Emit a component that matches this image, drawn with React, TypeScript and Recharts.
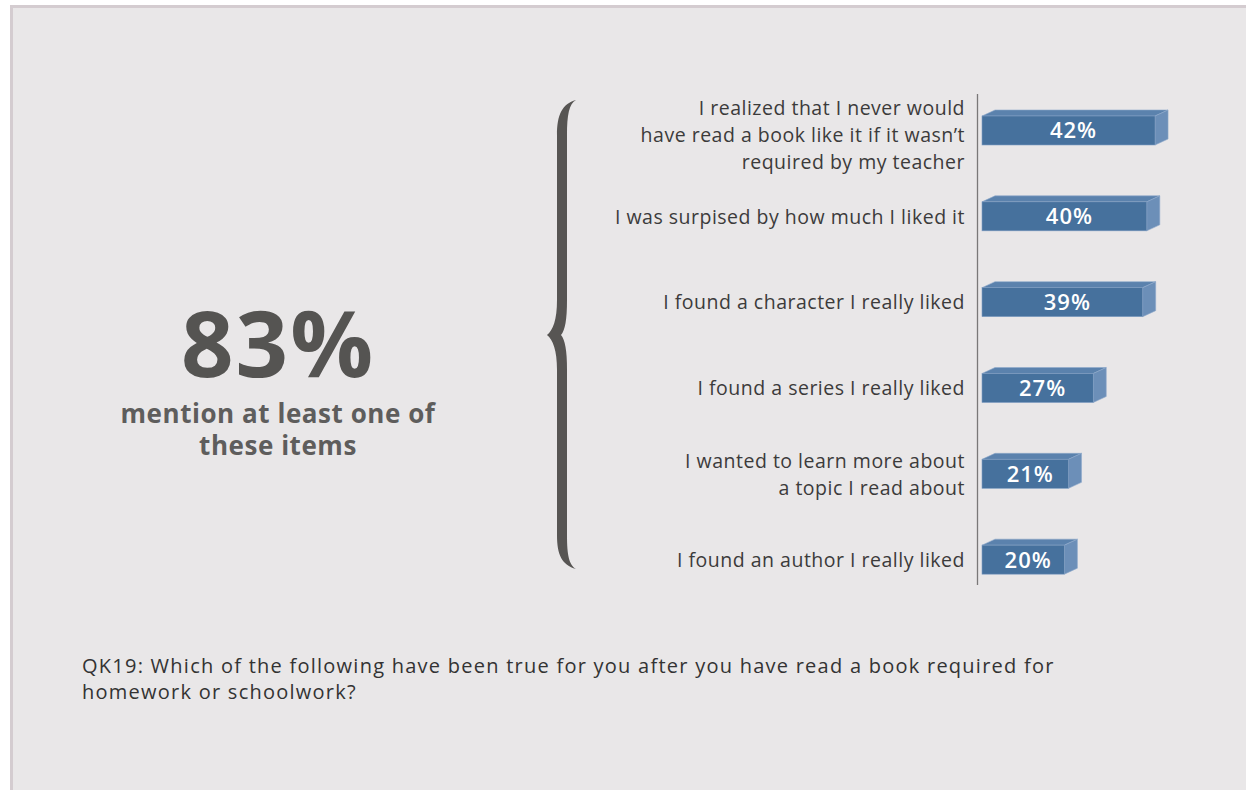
import React from 'react';
import { BarChart, Bar, XAxis, YAxis, LabelList } from 'recharts';

const categories = [
  'I realized that I never would\nhave read a book like it if it wasn’t\nrequired by my teacher',
  'I was surpised by how much I liked it',
  'I found a character I really liked',
  'I found a series I really liked',
  'I wanted to learn more about\na topic I read about',
  'I found an author I really liked',
];
const values = [42, 40, 39, 27, 21, 20];
const headline = '83%';
const headlineSub = ['mention at least one of', 'these items'];
const footnote = [
  'QK19: Which of the following have been true for you after you have read a book required for',
  'homework or schoolwork?',
];

const data = categories.map((label, i) => ({ label, value: values[i] }));

const FONT = '"Open Sans", sans-serif';
const DEPTH_X = 13;
const DEPTH_Y = 6;

const Bar3D = (props: any) => {
  const { x, y, width, height } = props;
  if (width == null || height == null) return null;
  const top = `M${x},${y} L${x + DEPTH_X},${y - DEPTH_Y} L${x + width + DEPTH_X},${y - DEPTH_Y} L${x + width},${y} Z`;
  const side = `M${x + width},${y} L${x + width + DEPTH_X},${y - DEPTH_Y} L${x + width + DEPTH_X},${y + height - DEPTH_Y} L${x + width},${y + height} Z`;
  return (
    <g>
      <path d={top} fill="#5b82ad" stroke="#8eaacb" strokeWidth={0.6} />
      <path d={side} fill="#6c8fb8" stroke="#8eaacb" strokeWidth={0.6} />
      <rect x={x} y={y} width={width} height={height} fill="#46719d" stroke="#7f9dc2" strokeWidth={0.6} />
    </g>
  );
};

const CatTick = (props: any) => {
  const { x, y, payload } = props;
  const lines = String(payload.value).split('\n');
  const lh = 27;
  const start = y - ((lines.length - 1) * lh) / 2 + (lines.length === 3 ? 4 : 0);
  return (
    <text x={x} y={start} textAnchor="end" fill="#3c3b3b" fontFamily={FONT} fontSize={19.5} letterSpacing={0.5}>
      {lines.map((l, i) => (
        <tspan key={i} x={x} y={start + i * lh} dy="0.35em">
          {l}
        </tspan>
      ))}
    </text>
  );
};

const ValueLabel = (props: any) => {
  const { x, y, width, height, value } = props;
  return (
    <text
      x={x + width / 2 + 5}
      y={y + height / 2}
      dy="0.36em"
      textAnchor="middle"
      fill="#ffffff"
      fontFamily={FONT}
      fontSize={22}
      fontWeight={600}
      letterSpacing={1}
    >
      {value}%
    </text>
  );
};

export default function App() {
  return (
    <div style={{ position: 'absolute', left: 0, top: 0, width: 1246, height: 790, background: '#ffffff', overflow: 'hidden' }}>
      <div
        style={{
          position: 'absolute',
          left: 10,
          top: 5,
          width: 1240,
          height: 790,
          background: '#e9e7e8',
          borderLeft: '3px solid #d4ccd0',
          borderTop: '3px solid #d4ccd0',
          boxSizing: 'border-box',
        }}
      />
      <svg width={1246} height={790} style={{ position: 'absolute', left: 0, top: 0 }}>
        <path
          d="M576,100 C569,104 567,115 567,135 L567,300 C567,320 565,330 561,335 C565,340 567,350 567,370 L567,535 C567,555 569,565 576,569 C562,565 557,555 557,535 L557,370 C557,350 553,340 547,335 C553,330 557,320 557,300 L557,135 C557,115 562,104 576,100 Z"
          fill="#575553"
        />
        <line x1={977.5} y1={94} x2={977.5} y2={585} stroke="#7a7878" strokeWidth={1.3} />
        <text x={278} y={377} textAnchor="middle" fill="#555452" fontFamily={FONT} fontSize={92} fontWeight={700} letterSpacing={2}>
          {headline}
        </text>
        {headlineSub.map((t, i) => (
          <text key={i} x={278} y={423 + i * 32} textAnchor="middle" fill="#5e5d5c" fontFamily={FONT} fontSize={26} fontWeight={700} letterSpacing={0.55}>
            {t}
          </text>
        ))}
        {footnote.map((t, i) => (
          <text key={i} x={82} y={673 + i * 26} fill="#333333" fontFamily={FONT} fontSize={20} letterSpacing={1.25}>
            {t}
          </text>
        ))}
      </svg>
      <div style={{ position: 'absolute', left: 0, top: 0 }}>
        <BarChart
          width={1246}
          height={790}
          data={data}
          layout="vertical"
          margin={{ top: 88, right: 58, bottom: 187, left: 0 }}
        >
          <XAxis type="number" domain={[0, 50]} hide padding={{ left: 5, right: 0 }} />
          <YAxis
            type="category"
            dataKey="label"
            width={977}
            axisLine={false}
            tickLine={false}
            tickMargin={6}
            tick={<CatTick />}
            interval={0}
          />
          <Bar dataKey="value" barSize={29} shape={<Bar3D />} isAnimationActive={false}>
            <LabelList dataKey="value" content={<ValueLabel />} />
          </Bar>
        </BarChart>
      </div>
    </div>
  );
}
